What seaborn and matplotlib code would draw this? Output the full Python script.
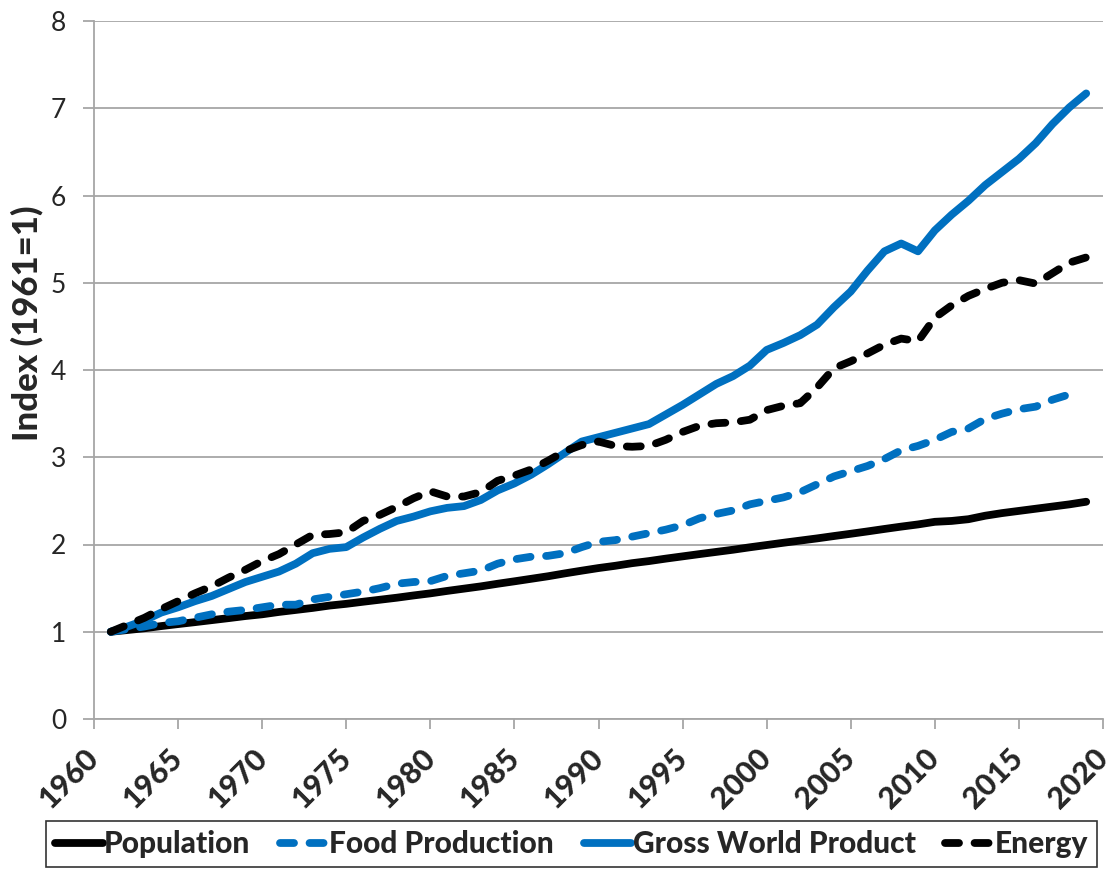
import matplotlib
matplotlib.use("Agg")
import matplotlib.pyplot as plt
import pandas as pd
import seaborn as sns

# Index values, 1961 = 1
years = list(range(1961, 2020))
population = [1.00, 1.02, 1.04, 1.065, 1.088, 1.11, 1.133, 1.156, 1.18, 1.20,
              1.227, 1.25, 1.273, 1.30, 1.32, 1.344, 1.367, 1.39, 1.416, 1.44,
              1.468, 1.494, 1.52, 1.55, 1.578, 1.607, 1.636, 1.669, 1.70, 1.73,
              1.756, 1.786, 1.81, 1.838, 1.864, 1.89, 1.915, 1.94, 1.968, 1.994,
              2.02, 2.045, 2.07, 2.097, 2.123, 2.15, 2.178, 2.205, 2.23, 2.26,
              2.27, 2.29, 2.33, 2.36, 2.385, 2.41, 2.435, 2.46, 2.49]

food_years = list(range(1961, 2019))
food = [1.00, 1.03, 1.06, 1.10, 1.12, 1.16, 1.20, 1.23, 1.25, 1.28,
        1.31, 1.31, 1.37, 1.40, 1.43, 1.46, 1.50, 1.55, 1.57, 1.58,
        1.64, 1.67, 1.70, 1.78, 1.83, 1.86, 1.87, 1.90, 1.97, 2.03,
        2.05, 2.09, 2.13, 2.17, 2.22, 2.30, 2.35, 2.39, 2.46, 2.50,
        2.54, 2.60, 2.69, 2.78, 2.84, 2.90, 2.98, 3.08, 3.13, 3.20,
        3.29, 3.33, 3.44, 3.50, 3.55, 3.58, 3.66, 3.72]

gwp = [1.00, 1.06, 1.13, 1.22, 1.28, 1.35, 1.41, 1.49, 1.57, 1.63,
       1.69, 1.78, 1.90, 1.95, 1.97, 2.08, 2.18, 2.27, 2.32, 2.38,
       2.42, 2.44, 2.51, 2.62, 2.70, 2.80, 2.92, 3.05, 3.18, 3.23,
       3.28, 3.33, 3.38, 3.49, 3.60, 3.72, 3.84, 3.93, 4.05, 4.23,
       4.31, 4.40, 4.52, 4.72, 4.90, 5.14, 5.36, 5.45, 5.36, 5.60,
       5.78, 5.94, 6.12, 6.27, 6.42, 6.60, 6.82, 7.01, 7.17]

energy = [1.00, 1.08, 1.16, 1.26, 1.35, 1.44, 1.52, 1.62, 1.71, 1.81,
          1.89, 2.00, 2.11, 2.12, 2.14, 2.27, 2.34, 2.43, 2.53, 2.61,
          2.55, 2.55, 2.60, 2.73, 2.79, 2.86, 2.96, 3.07, 3.14, 3.18,
          3.13, 3.12, 3.13, 3.20, 3.29, 3.36, 3.39, 3.40, 3.43, 3.54,
          3.59, 3.62, 3.80, 4.02, 4.10, 4.19, 4.29, 4.36, 4.33, 4.60,
          4.74, 4.85, 4.93, 5.00, 5.03, 4.99, 5.11, 5.23, 5.29]

series_names = ["Population", "Food Production", "Gross World Product", "Energy"]
x_ticks = list(range(1960, 2021, 5))
y_ticks = list(range(0, 9))

frames = []
for name, xs, ys in [(series_names[0], years, population),
                     (series_names[1], food_years, food),
                     (series_names[2], years, gwp),
                     (series_names[3], years, energy)]:
    frames.append(pd.DataFrame({"year": xs, "index": ys, "series": name}))
df = pd.concat(frames, ignore_index=True)

sns.set_theme(style="white")
plt.rcParams["font.family"] = ["Lato", "DejaVu Sans"]

BLUE = "#0070C0"
GRID = "#A6A6A6"
HEAVY = "black"

fig = plt.figure(figsize=(11.11, 8.69), dpi=100)
ax = fig.add_axes([94 / 1111, 1 - 719 / 869, 1009 / 1111, 698 / 869])

palette = {"Population": "black", "Food Production": BLUE,
           "Gross World Product": BLUE, "Energy": "black"}
dash_map = {"Population": "", "Food Production": (1.8, 2.0),
            "Gross World Product": "", "Energy": (1.8, 2.0)}

sns.lineplot(data=df, x="year", y="index", hue="series", style="series",
             hue_order=series_names, style_order=series_names,
             palette=palette, dashes=dash_map, linewidth=5.6,
             solid_capstyle="round", dash_capstyle="round",
             solid_joinstyle="round", dash_joinstyle="round",
             ax=ax, legend=False, zorder=3)

ax.set_xlim(1960, 2020)
ax.set_ylim(0, 8)
ax.set_xticks(x_ticks)
ax.set_yticks(y_ticks)
ax.set_xlabel("")
ax.set_ylabel("")

ax.yaxis.grid(True, color=GRID, linewidth=1.3, zorder=0)
ax.xaxis.grid(False)
for side in ["top", "right"]:
    ax.spines[side].set_visible(False)
for side in ["left", "bottom"]:
    ax.spines[side].set_color(GRID)
    ax.spines[side].set_linewidth(1.3)

ax.tick_params(axis="y", direction="out", length=8, width=1.3, color=GRID,
               labelsize=19, pad=12, left=True)
ax.tick_params(axis="x", direction="out", length=7, width=1.3, color=GRID,
               labelsize=22, pad=18, bottom=True)
for lbl in ax.get_xticklabels():
    lbl.set_rotation(45)
    lbl.set_ha("right")
    lbl.set_va("center")
    lbl.set_rotation_mode("anchor")
    lbl.set_fontweight(HEAVY)

fig.text(27 / 1111, 1 - 323 / 869, "Index (1961=1)", rotation=90,
         ha="center", va="center", fontsize=25, fontweight=HEAVY)

handles = ax.get_lines()[:4]
leg = fig.legend(handles, series_names, loc="lower left",
                 bbox_to_anchor=(46 / 1111, 2 / 869, 1051 / 1111, 46 / 869),
                 mode="expand", ncol=4, frameon=True, fancybox=False,
                 handlelength=1.6, handletextpad=0.05, borderaxespad=0,
                 borderpad=0.3, prop={"weight": HEAVY, "size": 21.5})
leg.get_frame().set_edgecolor("black")
leg.get_frame().set_linewidth(1.2)

fig.savefig("out.png", dpi=100)
